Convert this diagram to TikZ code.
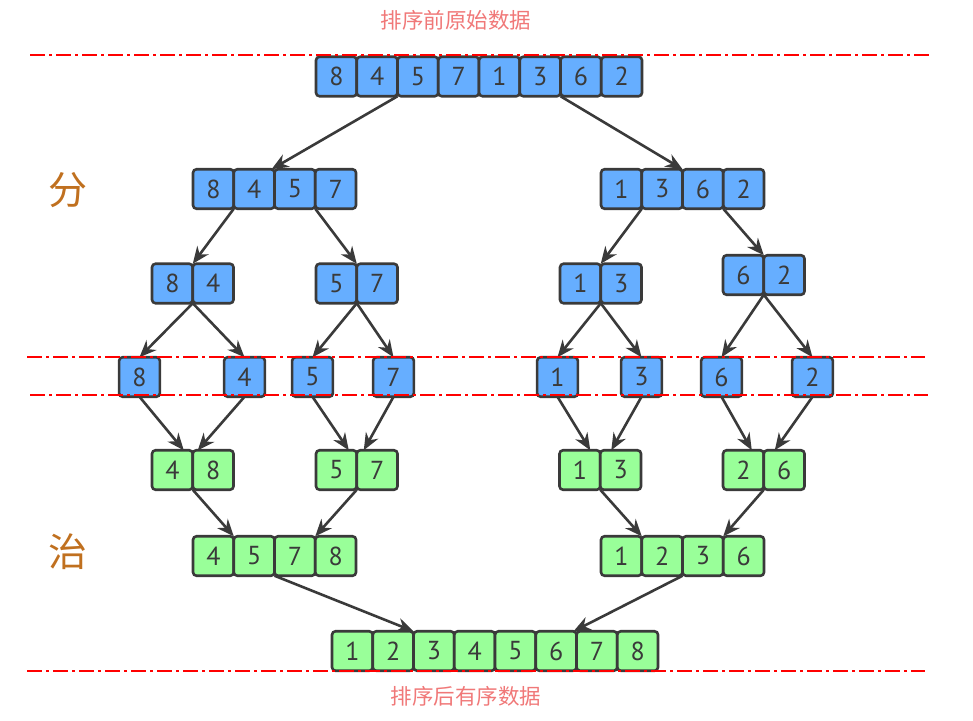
\documentclass[tikz,border=0pt]{standalone}
\usepackage{fontspec}
\setmainfont{PT Sans}
\newfontfamily\cjkfont{Noto Sans CJK SC}
\usetikzlibrary{arrows.meta, positioning}
\definecolor{CellBlue}{HTML}{66AEFF}
\definecolor{CellGreen}{HTML}{99FF99}
\definecolor{EdgeGrey}{HTML}{3A3A3A}
\definecolor{NoteRed}{HTML}{F07878}
\definecolor{SplitOrange}{HTML}{C0701F}

\begin{document}
\begin{tikzpicture}[x=1pt, y=-1pt, >={Stealth[length=17pt,width=14pt]}]
    \tikzstyle{cell} = [rectangle, draw=EdgeGrey, line width=2.6pt, rounded corners=3.5pt, minimum width=40.75pt, minimum height=39.5pt, inner sep=0pt, outer sep=0pt, text=EdgeGrey, font=\fontsize{26}{26}\selectfont]
    \tikzstyle{cellb} = [cell, fill=CellBlue]
    \tikzstyle{cellg} = [cell, fill=CellGreen]
    \tikzstyle{line} = [draw=EdgeGrey, ->, line width=2.6pt]
    \tikzstyle{cut} = [draw=red, line width=2.4pt, dash pattern=on 15pt off 4pt on 3pt off 4pt]
    \tikzstyle{note} = [text=NoteRed, font=\cjkfont\fontsize{21.5}{21.5}\selectfont]
    \tikzstyle{phase} = [text=SplitOrange, font=\cjkfont\fontsize{39}{39}\selectfont]

    \useasboundingbox (0,0) rectangle (973,720);

    % input row
    \node [cellb] (t1) at (336.4,76.5) {8};
    \node [cellb, right=0pt of t1] (t2) {4};
    \node [cellb, right=0pt of t2] (t3) {5};
    \node [cellb, right=0pt of t3] (t4) {7};
    \node [cellb, right=0pt of t4] (t5) {1};
    \node [cellb, right=0pt of t5] (t6) {3};
    \node [cellb, right=0pt of t6] (t7) {6};
    \node [cellb, right=0pt of t7] (t8) {2};

    % split
    \node [cellb] (bl1) at (213.4,189) {8};
    \node [cellb, right=0pt of bl1] (bl2) {4};
    \node [cellb, right=0pt of bl2] (bl3) {5};
    \node [cellb, right=0pt of bl3] (bl4) {7};
    \node [cellb] (br1) at (621.4,189) {1};
    \node [cellb, right=0pt of br1] (br2) {3};
    \node [cellb, right=0pt of br2] (br3) {6};
    \node [cellb, right=0pt of br3] (br4) {2};

    \node [cellb] (cl1) at (172.4,283.5) {8};
    \node [cellb, right=0pt of cl1] (cl2) {4};
    \node [cellb] (cm1) at (336.4,283.5) {5};
    \node [cellb, right=0pt of cm1] (cm2) {7};
    \node [cellb] (cn1) at (580.4,283.5) {1};
    \node [cellb, right=0pt of cn1] (cn2) {3};
    \node [cellb] (cr1) at (743.4,275) {6};
    \node [cellb, right=0pt of cr1] (cr2) {2};

    % single values
    \node [cellb] (d1) at (139.5,377) {8};
    \node [cellb] (d2) at (244.5,377) {4};
    \node [cellb] (d3) at (312.5,377) {5};
    \node [cellb] (d4) at (393.5,377) {7};
    \node [cellb] (d5) at (557.5,377) {1};
    \node [cellb] (d6) at (641.5,377) {3};
    \node [cellb] (d7) at (721.5,377) {6};
    \node [cellb] (d8) at (812.5,377) {2};

    % merge
    \node [cellg] (el1) at (172.4,470) {4};
    \node [cellg, right=0pt of el1] (el2) {8};
    \node [cellg] (em1) at (336.4,470) {5};
    \node [cellg, right=0pt of em1] (em2) {7};
    \node [cellg] (en1) at (579.9,470) {1};
    \node [cellg, right=0pt of en1] (en2) {3};
    \node [cellg] (er1) at (743.4,470) {2};
    \node [cellg, right=0pt of er1] (er2) {6};

    \node [cellg] (fl1) at (213.4,556) {4};
    \node [cellg, right=0pt of fl1] (fl2) {5};
    \node [cellg, right=0pt of fl2] (fl3) {7};
    \node [cellg, right=0pt of fl3] (fl4) {8};
    \node [cellg] (fr1) at (621.4,556) {1};
    \node [cellg, right=0pt of fr1] (fr2) {2};
    \node [cellg, right=0pt of fr2] (fr3) {3};
    \node [cellg, right=0pt of fr3] (fr4) {6};

    \node [cellg] (g1) at (352.4,651) {1};
    \node [cellg, right=0pt of g1] (g2) {2};
    \node [cellg, right=0pt of g2] (g3) {3};
    \node [cellg, right=0pt of g3] (g4) {4};
    \node [cellg, right=0pt of g4] (g5) {5};
    \node [cellg, right=0pt of g5] (g6) {6};
    \node [cellg, right=0pt of g6] (g7) {7};
    \node [cellg, right=0pt of g7] (g8) {8};

    \node [note] (before) at (456,20) {排序前原始数据};
    \node [note] (after) at (466,696) {排序后有序数据};
    \node [phase] (split) at (68,190) {分};
    \node [phase] (merge) at (68,552) {治};

    \path [line] (t2.south east) -- ([xshift=-3pt]bl2.north east);
    \path [line] (t6.south east) -- (br2.north east);
    \path [line] (bl1.south east) -- (cl1.north east);
    \path [line] (bl3.south east) -- (cm1.north east);
    \path [line] (br1.south east) -- (cn1.north east);
    \path [line] (br3.south east) -- (cr1.north east);
    \path [line] (cl1.south east) -- (d1.north);
    \path [line] (cl1.south east) -- (d2.north);
    \path [line] (cm1.south east) -- (d3.north);
    \path [line] (cm1.south east) -- (d4.north);
    \path [line] (cn1.south east) -- (d5.north);
    \path [line] (cn1.south east) -- (d6.north);
    \path [line] (cr1.south east) -- (d7.north);
    \path [line] (cr1.south east) -- (d8.north);
    \path [line] (d1.south) -- ([xshift=-9pt]el1.north east);
    \path [line] (d2.south) -- ([xshift=5pt]el1.north east);
    \path [line] (d3.south) -- ([xshift=-8pt]em1.north east);
    \path [line] (d4.south) -- ([xshift=7pt]em1.north east);
    \path [line] (d5.south) -- ([xshift=-10pt]en1.north east);
    \path [line] (d6.south) -- ([xshift=11pt]en1.north east);
    \path [line] (d7.south) -- ([xshift=-12pt]er1.north east);
    \path [line] (d8.south) -- ([xshift=11pt]er1.north east);
    \path [line] (el1.south east) -- (fl1.north east);
    \path [line] (em1.south east) -- (fl3.north east);
    \path [line] (en1.south east) -- (fr1.north east);
    \path [line] (er1.south east) -- (fr3.north east);
    \path [line] (fl2.south east) -- (g2.north east);
    \path [line] (fr2.south east) -- ([xshift=-3pt]g6.north east);

    % cut lines go over the boxes
    \coordinate (c1a) at (30,55);    \coordinate (c1b) at (930,55);
    \coordinate (c2a) at (27,357);   \coordinate (c2b) at (925,357);
    \coordinate (c3a) at (30,395);   \coordinate (c3b) at (928,395);
    \coordinate (c4a) at (27,671);   \coordinate (c4b) at (925,671);
    \path [cut] (c1a) -- (c1b);
    \path [cut] (c2a) -- (c2b);
    \path [cut] (c3a) -- (c3b);
    \path [cut] (c4a) -- (c4b);
\end{tikzpicture}
\end{document}
